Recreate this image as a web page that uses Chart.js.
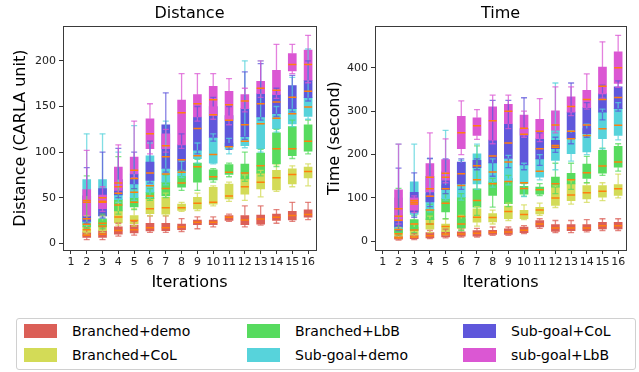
<!DOCTYPE html>
<html>
<head>
<meta charset="utf-8">
<script src="https://cdn.jsdelivr.net/npm/chart.js@4.4.1/dist/chart.umd.min.js"></script>
<style>
  html, body { margin: 0; padding: 0; background: #fff; }
  body { width: 639px; height: 372px; position: relative; overflow: hidden; font-family: "DejaVu Sans", sans-serif; }
  #distChart { position: absolute; left: 0; top: 0; }
  #timeChart { position: absolute; left: 322px; top: 0; }
  #legend { position: absolute; left: 16px; top: 318px; width: 620px; height: 52px; box-sizing: border-box; border: 1px solid #d0d0d0; border-radius: 3px; }
  .item { position: absolute; height: 18px; display: flex; align-items: center; font-size: 14px; color: #000; white-space: nowrap; }
  .swatch { width: 33px; height: 14px; margin-right: 15px; }
</style>
</head>
<body>
<canvas id="distChart" width="322" height="300"></canvas>
<canvas id="timeChart" width="317" height="300"></canvas>
<div id="legend"></div>
<script>
const iterations = ['1', '2', '3', '4', '5', '6', '7', '8', '9', '10', '11', '12', '13', '14', '15', '16'];
const seriesNames = ['Branched+demo', 'Branched+CoL', 'Branched+LbB', 'Sub-goal+demo', 'Sub-goal+CoL', 'sub-goal+LbB'];
const seriesColors = ['#db5f57', '#d3db57', '#57db5f', '#57d3db', '#5f57db', '#db57d3'];
const whiskerColors = ['rgba(219,95,87,0.75)', 'rgba(211,219,87,0.75)', 'rgba(87,219,95,0.75)',
    'rgba(87,211,219,0.75)', 'rgba(95,87,219,0.75)', 'rgba(219,87,211,0.75)'];
const medianColor = '#ff7f0e';

// each entry: [lower whisker, q1, median, q3, upper whisker], iteration 1 has no run
const distBranchedDemo = [null,
  [4, 6.5, 9, 12.5, 17], [4, 6.5, 10, 14, 18], [8, 10, 14, 18, 22], [9, 11.5, 15, 20, 24],
  [12, 13.5, 17, 22, 30], [12, 14, 17, 22, 30], [13, 15, 18, 21, 27], [16, 20.5, 23, 25.6, 29],
  [18, 20.5, 23, 25.6, 29], [24, 25, 28.5, 30.4, 32], [18, 20.5, 25.6, 30.4, 41], [20, 21, 26.7, 31, 41],
  [22, 25, 28.6, 32, 37], [24, 25.6, 30.4, 35, 45], [26, 28.6, 31.5, 36.6, 45]];
const distBranchedCoL = [null,
  [10, 12, 15, 18, 30], [12, 14, 19, 25, 30], [20, 22.5, 29, 35.5, 45], [19, 21.5, 25, 30.5, 38],
  [30, 32.5, 38, 49, 52], [30, 32, 39, 50.5, 55], [35, 36, 39, 43, 45], [36, 37.7, 44, 50.5, 55],
  [41, 43, 45, 61.5, 63], [46, 48.7, 52, 65, 67], [47, 54, 62, 70.7, 75], [51, 59.7, 67, 77, 80],
  [57, 58.6, 71.8, 80, 86], [62, 65, 75.5, 81.7, 85], [63, 71.8, 78.7, 83.5, 87]];
const distBranchedLbB = [null,
  [16, 18, 21, 24, 74], [16, 18, 22, 27, 32], [32, 35.5, 42, 48, 95], [37, 40, 45, 50, 60],
  [47, 49, 52, 56, 60], [50, 52, 60, 67, 75], [58, 61.5, 66, 74, 80], [58, 67, 84, 88, 92],
  [67, 69.6, 73, 80.6, 82], [73, 75.5, 78, 86.4, 88], [68, 70.7, 77, 87, 100], [74, 77, 85, 99, 103],
  [84, 87, 103.7, 121, 125], [93, 96, 103.7, 128, 135], [98, 101, 112, 130, 135]];
const distSubgoalDemo = [null,
  [20, 22, 45, 70, 120], [27, 30, 50, 70, 120], [45, 48, 55, 60, 100], [47, 50, 56, 65, 129],
  [50.5, 56, 63, 96, 110], [64, 67, 76, 82, 134], [72, 74, 78, 80, 90], [88, 92.7, 96, 102, 110],
  [87, 88, 97.4, 116, 120], [98, 103, 106, 110, 115], [104.8, 107, 112, 117, 200], [100, 103.7, 131, 138.5, 200],
  [122, 125.6, 137, 142, 150], [128, 131, 142, 147.6, 182], [136, 139, 149.5, 159.7, 213]];
const distSubgoalCoL = [null,
  [22, 24, 27, 52, 83], [28, 30, 45, 60, 100], [50, 53, 62, 70, 104], [60, 65, 71, 76, 100],
  [66, 69, 77, 89, 112], [78, 82, 95, 130, 165], [78, 80, 91.6, 108, 120], [98, 102, 126, 138.5, 150],
  [112, 116, 141, 150, 160], [103, 106, 135, 140, 150], [114, 117, 130, 147.6, 188], [135, 138.5, 153, 164, 197],
  [139, 142, 155, 163, 170], [144, 147.6, 160, 173, 184], [156, 159.7, 166.7, 178.8, 200]];
const distSubgoalLbB = [null,
  [27, 30, 47, 59, 102], [35, 38, 46, 53, 62], [55, 58, 66, 83.5, 108], [72, 76, 80, 94.5, 134],
  [98, 103.7, 120, 136.6, 153], [100, 103.7, 107, 120, 125], [104, 108, 143, 157, 186], [134, 138.5, 153, 163, 186],
  [136, 140, 157.5, 172, 186], [130, 134.8, 152, 166.7, 180.6], [144, 147.6, 156, 163, 170], [160, 164, 170, 177.6, 200],
  [159, 163, 167.8, 189.7, 218], [186, 189, 196, 208, 218], [176, 178.8, 196, 211.7, 228]];

const timeBranchedDemo = [null,
  [3, 5, 8.5, 12, 15], [4, 6, 10, 14, 18], [6, 8, 13, 20, 25], [8, 10, 17, 22, 28],
  [10, 12, 17, 22, 28], [10, 12, 18.5, 24.7, 30], [14, 16, 20.8, 25.4, 33], [14, 16, 21.6, 29, 33],
  [18, 20, 25.4, 33, 36], [30, 33, 40, 47.8, 52], [20, 23, 30.8, 38.5, 48], [20, 24.7, 30.8, 38.5, 48],
  [22, 24.7, 30.8, 38.5, 50], [25, 28.5, 36, 44, 52], [25, 28.5, 36, 44, 52]];
const timeBranchedCoL = [null,
  [8, 12, 17.7, 25, 32], [10, 14, 26, 33, 40], [20, 28, 40, 52, 58], [15, 22, 34, 40, 52],
  [25, 30, 40, 52, 60], [35, 44, 55.5, 74.7, 80], [40, 44.7, 54.7, 64, 72], [48, 52.4, 69, 81, 88],
  [50, 52.4, 61.7, 71.7, 84], [60, 63, 72.4, 78.6, 88], [78, 82.5, 100, 125, 128], [86, 94, 107, 132.6, 140],
  [90, 98, 112, 128.7, 135], [94, 101.7, 115.6, 128.7, 135], [100, 106, 121, 131, 155]];
const timeBranchedLbB = [null,
  [15, 20, 27, 33, 122], [20, 25, 40, 50, 60], [40, 50, 72, 74, 85], [52, 67.7, 88, 98.5, 110],
  [25, 31, 57, 101.7, 110], [60, 78.6, 94, 121, 220], [79, 106, 133, 137, 145], [80, 87, 138, 145, 152],
  [104, 108.7, 121.8, 127, 133], [105.6, 109, 118.7, 125, 133], [110, 125, 132.6, 148, 180], [120, 132.6, 141.8, 157, 180],
  [135, 145, 158, 178, 196], [152, 157, 173.4, 209.6, 215], [162, 171, 182.7, 219, 225]];
const timeSubgoalDemo = [null,
  [28, 30, 57.7, 100, 224], [58, 62, 94, 137, 224], [68, 72, 104, 110, 191], [95, 98.5, 121, 130, 256],
  [95, 101.7, 128.7, 182, 186.5], [120, 132.6, 141.8, 202, 224], [125, 137, 160, 181, 190], [130, 138, 182.7, 191, 198],
  [103, 133, 135, 176, 180], [141.8, 148, 161.8, 190, 200], [165, 186.5, 217, 256, 365], [185, 202, 236.6, 250, 255],
  [200, 206, 244, 260, 270], [213.5, 236.6, 259.7, 298, 305], [234, 244, 267.4, 306, 320]];
const timeSubgoalCoL = [null,
  [25, 33, 48.5, 60, 169], [55, 67, 86, 113, 158], [80, 91, 121, 150, 191], [110, 119, 148, 160, 190],
  [120, 132.6, 155.7, 182.7, 190], [165, 169.6, 174, 186.5, 190], [150, 181, 196.5, 233.5, 325], [170, 191, 226.6, 270.5, 325],
  [165, 176, 246.6, 260, 331], [175, 190, 213.5, 236.6, 250], [205, 213.5, 221, 232.8, 240], [225, 236.6, 254, 298, 365],
  [240, 248, 268, 308, 320], [280, 298, 326.8, 340.6, 360], [300, 306, 331.4, 356, 370]];
const timeSubgoalLbB = [null,
  [40, 47, 75, 119, 224], [66, 72, 90, 100, 105], [105, 114, 148, 179, 250], [135, 140.8, 157, 188.5, 236],
  [200, 213.5, 250.5, 288, 323.7], [235, 244, 266.7, 285, 303.7], [225, 233.5, 278, 310, 337], [260, 271, 300, 316, 337],
  [240, 245, 260.5, 291, 300], [230, 236.6, 253.6, 281.3, 329], [250, 256, 268, 300.6, 356], [290, 298, 311, 333, 356],
  [305, 308, 327, 348, 386], [330, 340, 357.6, 402, 460], [355, 363.8, 400, 437, 475]];

const distTicks = [0, 50, 100, 150, 200];
const timeTicks = [0, 100, 200, 300, 400];

const fontFamily = '"DejaVu Sans", sans-serif';

// full box around the plot area, like matplotlib spines
const framePlugin = {
    id: 'frame',
    afterDatasetsDraw(chart) {
        const { ctx, chartArea: a } = chart;
        ctx.save();
        ctx.strokeStyle = '#3a3a3a';
        ctx.lineWidth = 1;
        ctx.strokeRect(Math.round(a.left) + 0.5, Math.round(a.top) + 0.5,
            Math.round(a.right - a.left), Math.round(a.bottom - a.top));
        ctx.restore();
    }
};

function buildDatasets(seriesStats) {
    const sets = [];
    seriesStats.forEach((stats, k) => {
        const color = seriesColors[k];
        // box from q1 to q3
        sets.push({
            type: 'bar',
            data: stats.map(s => s ? [s[1], s[3]] : null),
            backgroundColor: color,
            grouped: false,
            barThickness: 8,
            order: 100 - k
        });
        const whiskers = [];
        const caps = [];
        stats.forEach((s, i) => {
            if (!s) return;
            const x = iterations[i];
            whiskers.push({ x, y: s[0] }, { x, y: s[1] }, { x, y: null },
                { x, y: s[3] }, { x, y: s[4] }, { x, y: null });
            caps.push({ x, y: s[0] }, { x, y: s[4] });
        });
        sets.push({
            type: 'line',
            data: whiskers,
            borderColor: whiskerColors[k],
            borderWidth: 1.3,
            pointRadius: 0,
            spanGaps: false,
            order: 50 - k
        });
        sets.push({
            type: 'line',
            data: caps,
            showLine: false,
            pointStyle: 'line',
            pointRadius: 3,
            pointBorderWidth: 1.3,
            borderColor: whiskerColors[k],
            pointBorderColor: whiskerColors[k],
            order: 50 - k
        });
    });
    // medians are drawn above every box
    seriesStats.forEach((stats, k) => {
        sets.push({
            type: 'line',
            data: stats.map((s, i) => s ? { x: iterations[i], y: s[2] } : null).filter(Boolean),
            showLine: false,
            pointStyle: 'line',
            pointRadius: 4,
            pointBorderWidth: 1.5,
            borderColor: medianColor,
            pointBorderColor: medianColor,
            order: 10 - k
        });
    });
    return sets;
}

function makeChart(id, title, yTitle, seriesStats, yMin, yMax, yTicks, yWidth, padRight, yTitlePad) {
    return new Chart(document.getElementById(id), {
        type: 'bar',
        data: { labels: iterations, datasets: buildDatasets(seriesStats) },
        options: {
            responsive: false,
            animation: false,
            events: [],
            layout: { padding: { left: 0, right: padRight, top: 0, bottom: 0 } },
            plugins: {
                legend: { display: false },
                tooltip: { enabled: false },
                title: {
                    display: true,
                    text: title,
                    fullSize: false,
                    color: '#000',
                    font: { size: 16, weight: 'normal', family: fontFamily },
                    padding: { top: 4, bottom: 3 }
                }
            },
            scales: {
                x: {
                    offset: true,
                    grid: { offset: false, drawOnChartArea: false, tickLength: 4, color: '#333' },
                    border: { display: false },
                    ticks: { color: '#222', font: { size: 11, family: fontFamily }, padding: 2, maxRotation: 0, autoSkip: false },
                    title: {
                        display: true, text: 'Iterations', color: '#000',
                        font: { size: 16, family: fontFamily }, padding: { top: 0, bottom: 8 }
                    },
                    afterFit: s => { s.height = 50; }
                },
                y: {
                    min: yMin,
                    max: yMax,
                    afterBuildTicks: s => { s.ticks = yTicks.map(v => ({ value: v })); },
                    grid: { drawOnChartArea: false, tickLength: 4, color: '#333' },
                    border: { display: false },
                    ticks: { color: '#222', font: { size: 11, family: fontFamily }, padding: 3 },
                    title: {
                        display: true, text: yTitle, color: '#000',
                        font: { size: 16, family: fontFamily }, padding: { top: yTitlePad, bottom: 0 }
                    },
                    afterFit: s => { s.width = yWidth; }
                }
            }
        },
        plugins: [framePlugin]
    });
}

makeChart('distChart', 'Distance', 'Distance (CARLA unit)',
    [distBranchedDemo, distBranchedCoL, distBranchedLbB, distSubgoalDemo, distSubgoalCoL, distSubgoalLbB],
    -7.3, 238, distTicks, 63, 6, 11);
makeChart('timeChart', 'Time', 'Time (second)',
    [timeBranchedDemo, timeBranchedCoL, timeBranchedLbB, timeSubgoalDemo, timeSubgoalCoL, timeSubgoalLbB],
    -20, 496, timeTicks, 53, 13, 3);

// shared legend under both panels, filled column by column
const legendBox = document.getElementById('legend');
const colLeft = [7, 230, 446];
const rowTop = [3, 27];
seriesNames.forEach((name, i) => {
    const item = document.createElement('div');
    item.className = 'item';
    item.style.left = colLeft[Math.floor(i / 2)] + 'px';
    item.style.top = rowTop[i % 2] + 'px';
    const sw = document.createElement('span');
    sw.className = 'swatch';
    sw.style.background = seriesColors[i];
    const label = document.createElement('span');
    label.textContent = name;
    item.appendChild(sw);
    item.appendChild(label);
    legendBox.appendChild(item);
});
</script>
</body>
</html>
